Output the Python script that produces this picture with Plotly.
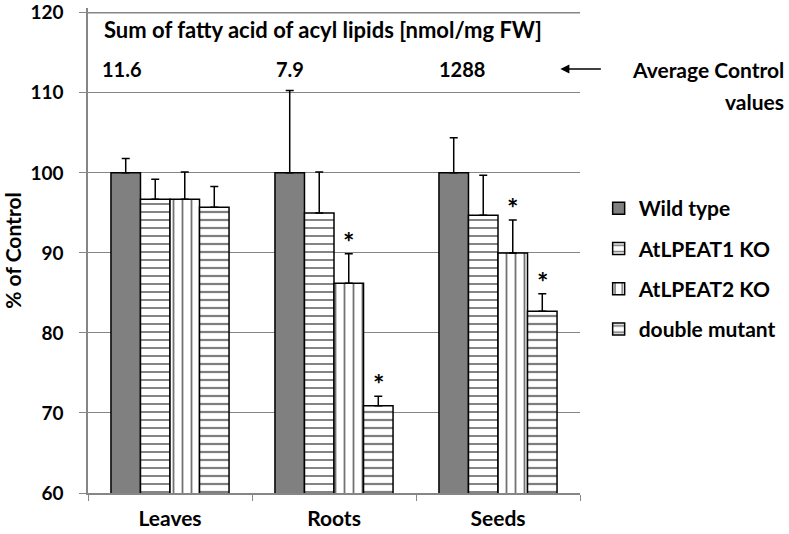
import plotly.graph_objects as go

categories = ["Leaves", "Roots", "Seeds"]
series_names = ["Wild type", "AtLPEAT1 KO", "AtLPEAT2 KO", "double mutant"]
wild_type = [100, 100, 100]
lpeat1 = [96.7, 95.0, 94.7]
lpeat2 = [96.7, 86.2, 90.0]
double_mutant = [95.7, 70.9, 82.7]
err_wild_type = [1.8, 10.3, 4.4]
err_lpeat1 = [2.5, 5.1, 5.0]
err_lpeat2 = [3.4, 3.7, 4.1]
err_double = [2.6, 1.2, 2.2]
significant = [[False, False, False], [False, False, False],
               [False, True, True], [False, True, True]]
control_values = ["11.6", "7.9", "1288"]
y_ticks = [60, 70, 80, 90, 100, 110, 120]

values = [wild_type, lpeat1, lpeat2, double_mutant]
errors = [err_wild_type, err_lpeat1, err_lpeat2, err_double]

FONT = "Lato"
styles = [
    dict(color="#808080"),
    dict(color="white", pattern=dict(shape="-", fgcolor="black", bgcolor="white", size=8, solidity=0.22, fgopacity=0.55)),
    dict(color="white", pattern=dict(shape="|", fgcolor="black", bgcolor="white", size=9, solidity=0.2, fgopacity=0.55)),
    dict(color="white", pattern=dict(shape="-", fgcolor="black", bgcolor="white", size=8, solidity=0.28)),
]

fig = go.Figure()
for k, name in enumerate(series_names):
    fig.add_trace(go.Bar(
        x=categories, y=values[k], name=name, legendgroup=name,
        marker=dict(line=dict(color="black", width=1.5), **styles[k]),
        error_y=dict(type="data", array=errors[k], arrayminus=[0] * 3,
                     symmetric=False, color="black", thickness=1.5, width=4),
    ))

bargap = 0.28
bw = (1 - bargap) / 4
annotations = []
for k in range(4):
    for ci in range(3):
        if significant[k][ci]:
            annotations.append(dict(
                x=ci + (k - 1.5) * bw, y=values[k][ci] + errors[k][ci],
                xref="x", yref="y", text="*", showarrow=False,
                yanchor="bottom", yshift=-6,
                font=dict(size=27, family=FONT, color="black", weight="bold")))

annotations.append(dict(x=102, y=30, text="Sum of fatty acid of acyl lipids [nmol/mg FW]",
                        showarrow=False, xanchor="left", yanchor="middle",
                        font=dict(size=22, family=FONT, color="black", weight="bold")))
ctrl_x = [100, 277, 443]
for i, v in enumerate(control_values):
    annotations.append(dict(x=ctrl_x[i], y=69, text=v, showarrow=False, xanchor="left", yanchor="middle",
                            font=dict(size=20, family=FONT, color="black", weight="bold")))
annotations.append(dict(x=799, y=69, text="Average Control", showarrow=False, xanchor="right", yanchor="middle"))
annotations.append(dict(x=799, y=102, text="values", showarrow=False, xanchor="right", yanchor="middle"))

# convert pixel-based text placements to paper coords
L, R, T, B = 88, 200, 8, 41
W, H = 789, 534
pw, ph = W - L - R, H - T - B
final_ann = []
for a in annotations:
    if a.get("xref") == "x":
        final_ann.append(a)
        continue
    a = dict(a)
    a["xref"] = "paper"
    a["yref"] = "paper"
    a["x"] = (a["x"] - L) / pw
    a["y"] = (H - B - a["y"]) / ph
    a.setdefault("font", dict(size=21, family=FONT, color="black", weight="bold"))
    final_ann.append(a)

final_ann.append(dict(
    xref="paper", yref="paper", axref="pixel", ayref="pixel",
    x=(569 - L) / pw, y=(H - B - 69) / ph, ax=42, ay=0,
    showarrow=True, arrowhead=2, arrowsize=1.2, arrowwidth=1.5, arrowcolor="black", text=""))

fig.add_shape(type="line", xref="paper", yref="y", x0=0, x1=1,
              y0=y_ticks[-1], y1=y_ticks[-1], layer="below",
              line=dict(color="#868686", width=1.2))

fig.update_layout(
    width=W, height=H,
    margin=dict(l=L, r=R, t=T, b=B),
    paper_bgcolor="white", plot_bgcolor="white",
    barmode="group", bargap=bargap, bargroupgap=0,
    font=dict(family=FONT, size=21, color="black", weight="bold"),
    showlegend=True,
    legend=dict(x=(608 - L) / pw, y=(H - B - 188) / ph, xanchor="left", yanchor="top",
                traceorder="grouped", tracegroupgap=10,
                font=dict(size=21, family=FONT, color="black", weight="bold"),
                bgcolor="rgba(0,0,0,0)", itemwidth=30),
    annotations=final_ann,
    xaxis=dict(type="category", showline=True, linecolor="#868686", linewidth=1.5,
               ticks="outside", tickson="boundaries", ticklen=6, tickcolor="#868686",
               ticklabelstandoff=6, automargin=False,
               tickfont=dict(size=21, family=FONT, color="black", weight="bold"),
               showgrid=False),
    yaxis=dict(range=[60, 120.6], tickvals=y_ticks, showline=True, linecolor="#868686", linewidth=1.5,
               ticks="outside", ticklen=7, tickcolor="#868686", automargin=False,
               ticklabelstandoff=12, ticklabeloverflow="allow",
               showgrid=True, gridcolor="#868686", gridwidth=1.2,
               tickfont=dict(size=19, family=FONT, color="black", weight="bold"),
               title=dict(text="% of Control", standoff=6,
                          font=dict(size=21, family=FONT, color="black", weight="bold"))),
)

fig.write_html("out.html", config={"displayModeBar": False},
               post_script="document.body.style.margin='0';")
